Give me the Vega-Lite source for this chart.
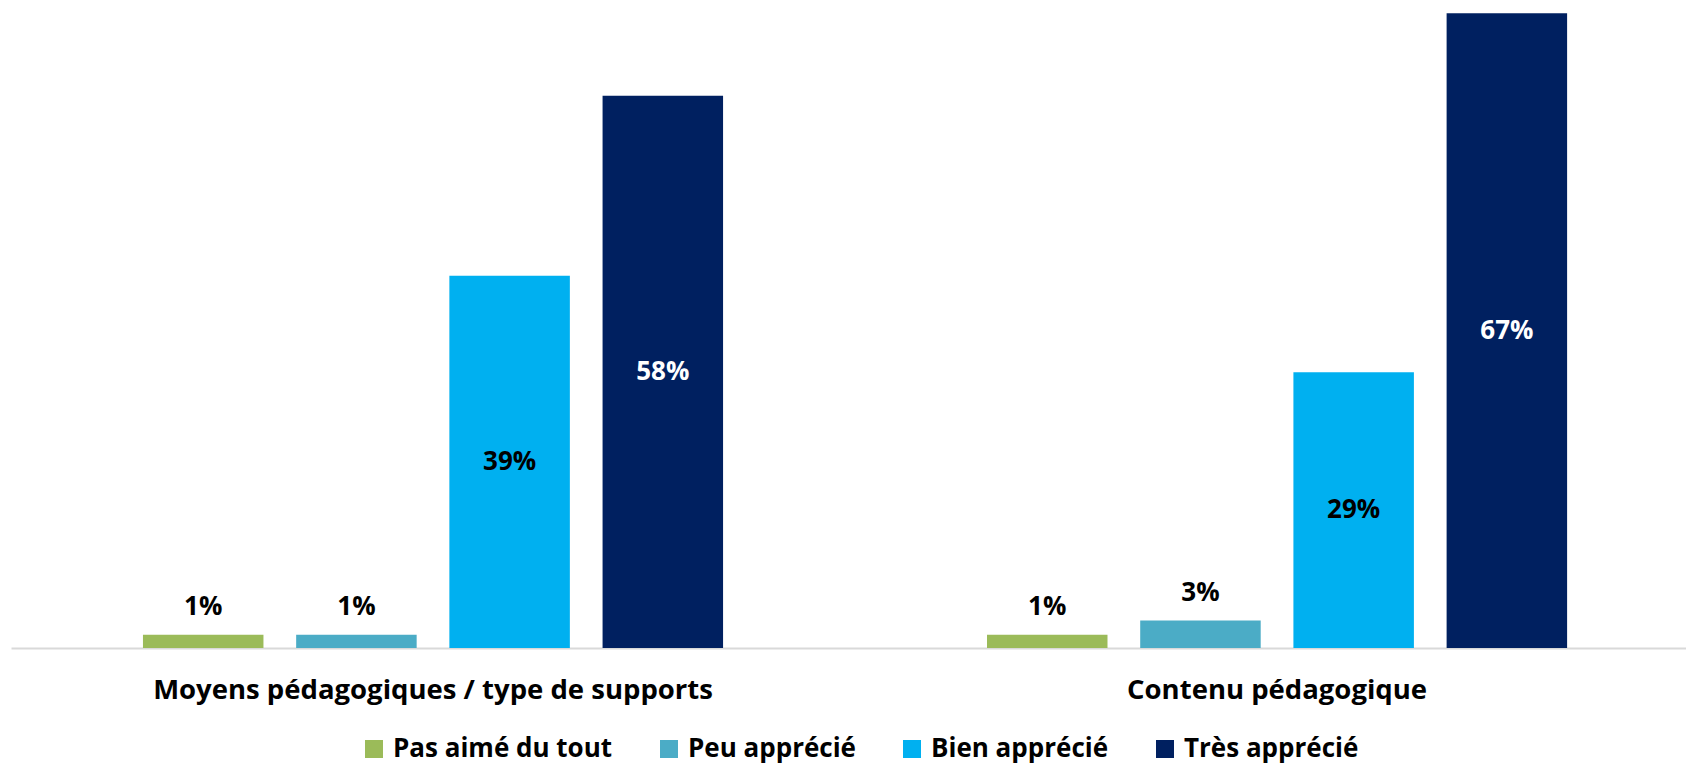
{
  "$schema": "https://vega.github.io/schema/vega-lite/v6.json",
  "width": 1675,
  "height": 648,
  "autosize": "none",
  "padding": {"left": 11, "top": 0, "right": 0, "bottom": 120},
  "background": "white",
  "config": {"view": {"stroke": null}, "font": "Open Sans"},
  "data": {"values": [
    {"group": "Moyens pédagogiques / type de supports", "rating": "Pas aimé du tout", "value": 1.4, "label": "1%"},
    {"group": "Moyens pédagogiques / type de supports", "rating": "Peu apprécié", "value": 1.4, "label": "1%"},
    {"group": "Moyens pédagogiques / type de supports", "rating": "Bien apprécié", "value": 39.3, "label": "39%"},
    {"group": "Moyens pédagogiques / type de supports", "rating": "Très apprécié", "value": 58.3, "label": "58%"},
    {"group": "Contenu pédagogique", "rating": "Pas aimé du tout", "value": 1.4, "label": "1%"},
    {"group": "Contenu pédagogique", "rating": "Peu apprécié", "value": 2.9, "label": "3%"},
    {"group": "Contenu pédagogique", "rating": "Bien apprécié", "value": 29.1, "label": "29%"},
    {"group": "Contenu pédagogique", "rating": "Très apprécié", "value": 67, "label": "67%"}
  ]},
  "encoding": {
    "x": {"field": "group", "type": "nominal", "sort": ["Moyens pédagogiques / type de supports", "Contenu pédagogique"],
      "scale": {"paddingInner": 0.2735, "paddingOuter": 0.129, "align": 0.53},
      "axis": {"title": null, "labelAngle": 0, "ticks": false, "domainColor": "#d9d9d9", "domainWidth": 2, "labelFontSize": 27.5, "labelFontWeight": "bold", "labelColor": "#000000", "labelPadding": 28, "labelFont": "Open Sans", "labelLimit": 0}},
    "xOffset": {"field": "rating", "type": "nominal", "sort": ["Pas aimé du tout", "Peu apprécié", "Bien apprécié", "Très apprécié"],
      "scale": {"paddingInner": 0.2135, "paddingOuter": 0.108}}
  },
  "layer": [
    {
      "mark": {"type": "bar"},
      "encoding": {
        "y": {"field": "value", "type": "quantitative", "scale": {"domain": [0, 68.4], "nice": false}, "axis": null},
        "color": {"field": "rating", "type": "nominal", "sort": ["Pas aimé du tout", "Peu apprécié", "Bien apprécié", "Très apprécié"],
          "scale": {"domain": ["Pas aimé du tout", "Peu apprécié", "Bien apprécié", "Très apprécié"], "range": ["#9BBB59", "#4BACC6", "#00B0F0", "#002060"]},
          "legend": {"title": null, "orient": "none", "legendX": 350, "legendY": 736, "direction": "horizontal", "symbolType": "square", "symbolSize": 324, "symbolOpacity": 1, "labelFontSize": 26, "labelFontWeight": "bold", "labelColor": "#000000", "labelFont": "Open Sans", "labelLimit": 0, "columnPadding": 43, "labelOffset": 6}}
      }
    },
    {
      "transform": [{"filter": "datum.value < 10"}],
      "mark": {"type": "text", "fontSize": 26, "fontWeight": "bold", "baseline": "alphabetic", "dy": -20, "color": "#000000", "font": "Open Sans"},
      "encoding": {
        "y": {"field": "value", "type": "quantitative", "scale": {"domain": [0, 68.4], "nice": false}, "axis": null},
        "text": {"field": "label"}
      }
    },
    {
      "transform": [{"filter": "datum.value >= 10"}],
      "mark": {"type": "text", "fontSize": 26, "fontWeight": "bold", "baseline": "middle", "font": "Open Sans"},
      "encoding": {
        "y": {"field": "value", "type": "quantitative", "scale": {"domain": [0, 136.8], "nice": false}, "axis": null},
        "text": {"field": "label"},
        "color": {"condition": {"test": "datum.rating === 'Très apprécié'", "value": "#ffffff"}, "value": "#000000"}
      }
    }
  ],
  "resolve": {"scale": {"y": "independent", "color": "independent"}}
}
